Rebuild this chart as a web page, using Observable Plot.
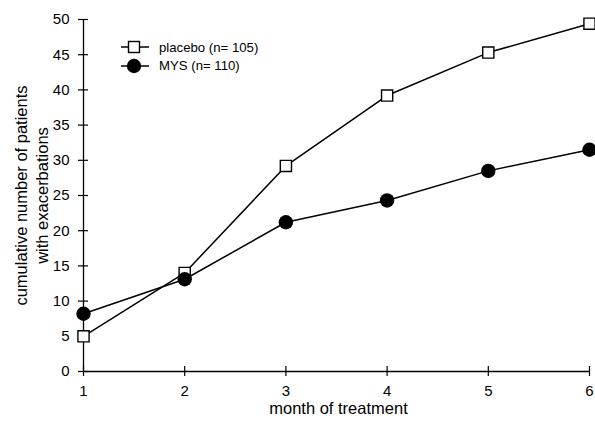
<!DOCTYPE html>
<html><head><meta charset="utf-8">
<script src="https://cdn.jsdelivr.net/npm/d3@7"></script>
<script src="https://cdn.jsdelivr.net/npm/@observablehq/plot@0.6"></script>
<style>
body{margin:0;background:#fff;font-family:"Liberation Sans",Arial,sans-serif;}
#wrap{position:relative;width:595px;height:423px;}
.legend{position:absolute;left:120px;top:38px;font-size:13.2px;color:#000;}
.legend .row{display:flex;align-items:center;height:18.5px;}
.legend svg{margin-right:9px;}
</style></head><body><div id="wrap"></div>
<script>
const months = [1, 2, 3, 4, 5, 6];
const placebo = [5, 14, 29.2, 39.2, 45.3, 49.4];
const mys = [8.2, 13.1, 21.2, 24.3, 28.5, 31.5];
const yTicks = [0, 5, 10, 15, 20, 25, 30, 35, 40, 45, 50];
const xTicks = [1, 2, 3, 4, 5, 6];
const seriesNames = ["placebo (n= 105)", "MYS (n= 110)"];
const xLabel = "month of treatment";
const yLabel = "cumulative number of patients\nwith exacerbations";

const placeboData = months.map((m, i) => ({month: m, value: placebo[i]}));
const mysData = months.map((m, i) => ({month: m, value: mys[i]}));

const plot = Plot.plot({
  width: 595, height: 423,
  marginLeft: 83, marginRight: 6, marginTop: 19, marginBottom: 52,
  style: {fontFamily: "Liberation Sans, Arial, sans-serif", fontSize: "15px", color: "#000", background: "#fff"},
  x: {domain: [1, 6]},
  y: {domain: [0, 50]},
  marks: [
    Plot.ruleX([1], {stroke: "#000", strokeWidth: 1.3}),
    Plot.ruleY([0], {stroke: "#000", strokeWidth: 1.3}),
    Plot.axisY(yTicks, {tickSize: 10, dx: 5, tickPadding: 9, label: null, fontSize: 15, strokeWidth: 1.2}),
    Plot.axisX(xTicks, {tickSize: 10, dy: -5, tickPadding: 9, label: null, fontSize: 15, strokeWidth: 1.2}),
    Plot.text([yLabel], {frameAnchor: "left", textAnchor: "middle", rotate: -90, dx: -53, lineHeight: 1.3, fontSize: 16.5}),
    Plot.text([xLabel], {frameAnchor: "bottom", textAnchor: "middle", dy: 42, dx: 2, fontSize: 16.5}),
    Plot.line(placeboData, {x: "month", y: "value", stroke: "#000", strokeWidth: 1.5}),
    Plot.line(mysData, {x: "month", y: "value", stroke: "#000", strokeWidth: 1.5}),
    Plot.dot(placeboData, {x: "month", y: "value", symbol: "square", r: 6.3, fill: "#fff", stroke: "#000", strokeWidth: 1.4}),
    Plot.dot(mysData, {x: "month", y: "value", r: 7.2, fill: "#000", stroke: "none"})
  ]
});
const wrap = document.getElementById("wrap");
wrap.appendChild(plot);

const legend = document.createElement("div");
legend.className = "legend";
const symbols = [
  '<rect x="8.5" y="3.5" width="11" height="11" fill="#fff" stroke="#000" stroke-width="1.4"/>',
  '<circle cx="14" cy="9" r="7.2" fill="#000"/>'
];
seriesNames.forEach((name, i) => {
  const row = document.createElement("div");
  row.className = "row";
  row.innerHTML = `<svg width="30" height="18"><line x1="1" x2="29" y1="9" y2="9" stroke="#000" stroke-width="1.5"/>${symbols[i]}</svg><span>${name}</span>`;
  legend.appendChild(row);
});
wrap.appendChild(legend);
</script>
</body></html>
